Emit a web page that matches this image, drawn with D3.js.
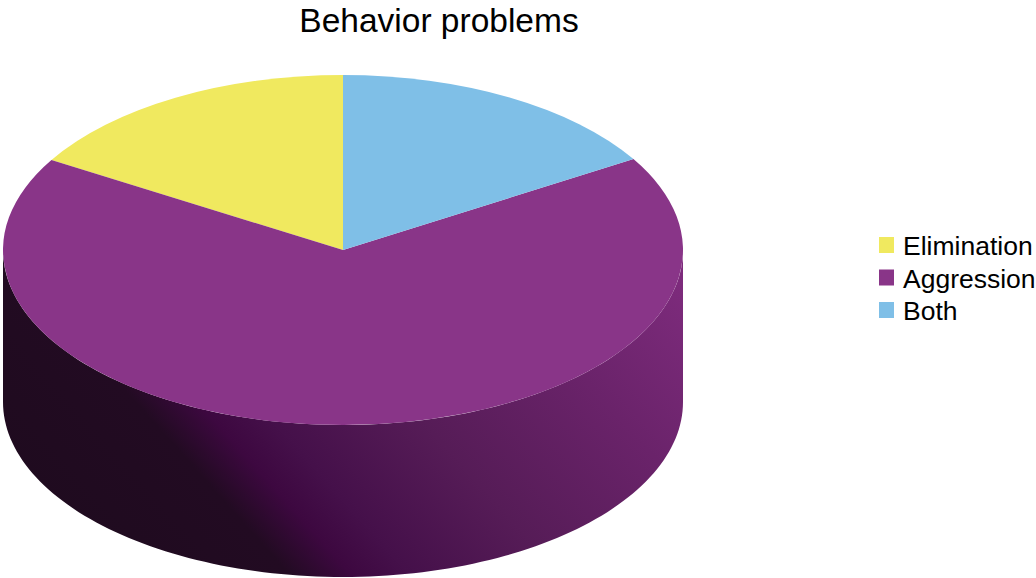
<!DOCTYPE html>
<html><head><meta charset="utf-8">
<script src="https://cdn.jsdelivr.net/npm/d3@7"></script>
<style>body{margin:0;background:#fff}svg{display:block}</style>
</head><body>
<script>
const categories = ["Elimination", "Aggression", "Both"];
const values = [16.4, 67.3, 16.3];
const colors = ["#f0e95f", "#893588", "#7fbfe7"];
const title = "Behavior problems";

const W = 1036, H = 578;
const svg = d3.select("body").append("svg").attr("width", W).attr("height", H);
const cx = 343, cy = 250, rx = 340, ry = 175, depth = 152;

const data = categories.map((c, i) => ({c, v: values[i], col: colors[i]}));
const pie = d3.pie().sort(null).value(d => d.v).startAngle(2 * Math.PI).endAngle(0);
const arcs = pie(data);

// side shading gradient
const defs = svg.append("defs");
const u = [0.746, -0.666];
const grad = defs.append("linearGradient").attr("id", "sideGrad")
  .attr("gradientUnits", "userSpaceOnUse")
  .attr("x1", -300 * u[0]).attr("y1", -300 * u[1])
  .attr("x2", 320 * u[0]).attr("y2", 320 * u[1]);
[[0, "#1f0b1f"], [0.215, "#220b22"], [0.29, "#3d0840"], [0.36, "#45104a"],
 [0.54, "#561c57"], [0.78, "#6a236a"], [1, "#7d2b7c"]].forEach(s =>
  grad.append("stop").attr("offset", s[0]).attr("stop-color", s[1]));

const pt = (a, dy) => [cx + rx * Math.sin(a), cy - ry * Math.cos(a) + dy];

// sides (front half only)
const sideG = svg.append("g");
arcs.forEach(d => {
  const a0 = Math.min(d.startAngle, d.endAngle), a1 = Math.max(d.startAngle, d.endAngle);
  const s = Math.max(a0, Math.PI / 2), e = Math.min(a1, 3 * Math.PI / 2);
  if (s >= e) return;
  const n = 120, top = [], bot = [];
  for (let i = 0; i <= n; i++) {
    const a = s + (e - s) * i / n;
    top.push(pt(a, 0));
    bot.push(pt(a, depth));
  }
  const poly = top.concat(bot.reverse());
  sideG.append("path")
    .attr("d", d3.line()(poly) + "Z")
    .attr("fill", "url(#sideGrad)");
});

// top face
const arc = d3.arc().innerRadius(0).outerRadius(rx);
svg.append("g")
  .attr("transform", `translate(${cx},${cy}) scale(1,${ry / rx})`)
  .selectAll("path").data(arcs).join("path")
  .attr("d", arc)
  .attr("fill", d => d.data.col);

// title
svg.append("text").attr("x", 439).attr("y", 32)
  .attr("text-anchor", "middle")
  .attr("font-family", "Liberation Sans, Arial, sans-serif")
  .attr("font-size", 33.5).attr("fill", "#000").text(title);

// legend
const leg = svg.append("g").attr("transform", "translate(879,237)");
const items = leg.selectAll("g").data(data).join("g")
  .attr("transform", (d, i) => `translate(0,${i * 32.5})`);
items.append("rect").attr("width", 15).attr("height", 16).attr("fill", d => d.col);
items.append("text").attr("x", 24).attr("y", 18)
  .attr("font-family", "Liberation Sans, Arial, sans-serif")
  .attr("font-size", 26.5).attr("fill", "#000").text(d => d.c);
</script>
</body></html>
